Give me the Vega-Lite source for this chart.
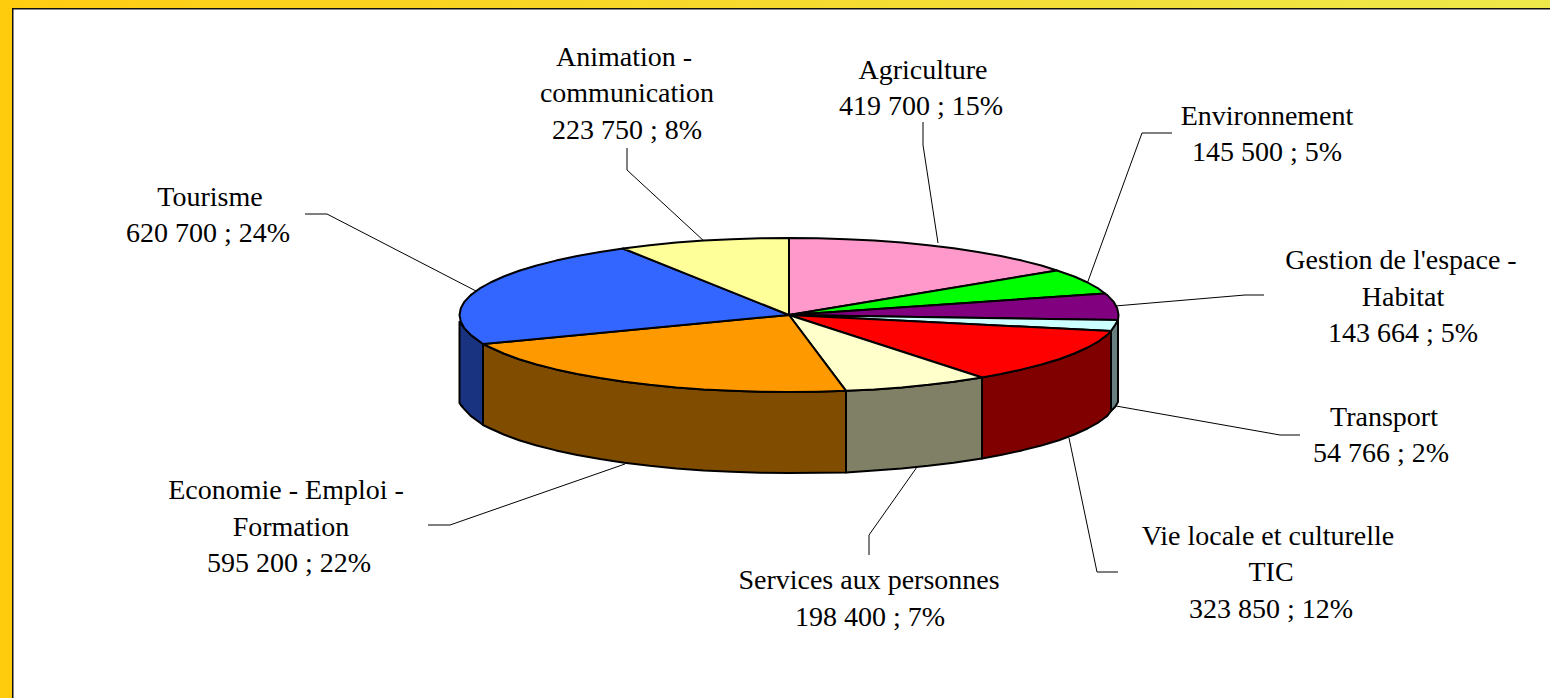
{"$schema":"https://vega.github.io/schema/vega-lite/v6.json","width":1550,"height":698,"autosize":"none","padding":0,"background":"white","config":{"view":{"stroke":null}},
"datasets":{
"frame":[{"part":"top","x":-789,"x2":761,"y":315,"y2":307},{"part":"left","x":-789,"x2":-777,"y":315,"y2":-383}],
"frameline":[{"x":-777,"x2":761,"y":307,"y2":305.5},{"x":-777,"x2":-775.5,"y":307,"y2":-383}],
"leaders":[
{"k":"Animation","o":1,"x":-162,"y":167},{"k":"Animation","o":2,"x":-162,"y":145},{"k":"Animation","o":3,"x":-84,"y":73},
{"k":"Agriculture","o":1,"x":134,"y":193},{"k":"Agriculture","o":2,"x":134,"y":170},{"k":"Agriculture","o":3,"x":149,"y":72},
{"k":"Environnement","o":1,"x":383,"y":182},{"k":"Environnement","o":2,"x":353,"y":182},{"k":"Environnement","o":3,"x":298,"y":31},
{"k":"Gestion","o":1,"x":475,"y":20},{"k":"Gestion","o":2,"x":456,"y":20},{"k":"Gestion","o":3,"x":326,"y":9},
{"k":"Transport","o":1,"x":327,"y":-91},{"k":"Transport","o":2,"x":491,"y":-120},{"k":"Transport","o":3,"x":511,"y":-120},
{"k":"Vie","o":1,"x":329,"y":-257},{"k":"Vie","o":2,"x":308,"y":-257},{"k":"Vie","o":3,"x":280,"y":-123},
{"k":"Services","o":1,"x":80,"y":-240},{"k":"Services","o":2,"x":80,"y":-220},{"k":"Services","o":3,"x":128,"y":-152},
{"k":"Economie","o":1,"x":-361,"y":-210},{"k":"Economie","o":2,"x":-339,"y":-210},{"k":"Economie","o":3,"x":-164,"y":-149},
{"k":"Tourisme","o":1,"x":-484,"y":101},{"k":"Tourisme","o":2,"x":-462,"y":101},{"k":"Tourisme","o":3,"x":-313,"y":24}],
"labels":[
{"t":"Animation -","x":-165,"y":257},{"t":"communication","x":-162,"y":221},{"t":"223 750 ; 8%","x":-162,"y":184},
{"t":"Agriculture","x":134,"y":244},{"t":"419 700 ; 15%","x":132,"y":208},
{"t":"Environnement","x":478,"y":198},{"t":"145 500 ; 5%","x":478,"y":162},
{"t":"Gestion de l'espace -","x":612,"y":54},{"t":"Habitat","x":614,"y":17},{"t":"143 664 ; 5%","x":614,"y":-19},
{"t":"Transport","x":595,"y":-103},{"t":"54 766 ; 2%","x":592,"y":-139},
{"t":"Vie locale et culturelle","x":479,"y":-222},{"t":"TIC","x":482,"y":-258},{"t":"323 850 ; 12%","x":482,"y":-295},
{"t":"Services aux personnes","x":80,"y":-266},{"t":"198 400 ; 7%","x":81,"y":-303},
{"t":"Economie - Emploi -","x":-503,"y":-176},{"t":"Formation","x":-498,"y":-213},{"t":"595 200 ; 22%","x":-500,"y":-249},
{"t":"Tourisme","x":-579,"y":117},{"t":"620 700 ; 24%","x":-581,"y":81}],
"pie":[
{"s":"Tourisme wall","o":1,"x":-329.5,"y":-6.7},{"s":"Tourisme wall","o":2,"x":-328.2,"y":-8},{"s":"Tourisme wall","o":3,"x":-324.5,"y":-13.4},{"s":"Tourisme wall","o":4,"x":-318.3,"y":-19.9},{"s":"Tourisme wall","o":5,"x":-309.6,"y":-26.3},{"s":"Tourisme wall","o":6,"x":-306,"y":-29},{"s":"Tourisme wall","o":7,"x":-306,"y":-110},{"s":"Tourisme wall","o":8,"x":-309.6,"y":-107.3},{"s":"Tourisme wall","o":9,"x":-318.3,"y":-100.9},{"s":"Tourisme wall","o":10,"x":-324.5,"y":-94.4},{"s":"Tourisme wall","o":11,"x":-328.2,"y":-90},{"s":"Tourisme wall","o":12,"x":-329.5,"y":-88},
{"s":"Economie wall","o":1,"x":57,"y":-75.8},{"s":"Economie wall","o":2,"x":28.7,"y":-76.7},{"s":"Economie wall","o":3,"x":0,"y":-77},{"s":"Economie wall","o":4,"x":-28.7,"y":-76.7},{"s":"Economie wall","o":5,"x":-57.2,"y":-75.8},{"s":"Economie wall","o":6,"x":-85.3,"y":-74.4},{"s":"Economie wall","o":7,"x":-112.7,"y":-72.4},{"s":"Economie wall","o":8,"x":-139.3,"y":-69.8},{"s":"Economie wall","o":9,"x":-164.8,"y":-66.7},{"s":"Economie wall","o":10,"x":-189,"y":-63.1},{"s":"Economie wall","o":11,"x":-211.8,"y":-59},{"s":"Economie wall","o":12,"x":-233,"y":-54.4},{"s":"Economie wall","o":13,"x":-252.4,"y":-49.5},{"s":"Economie wall","o":14,"x":-269.9,"y":-44.2},{"s":"Economie wall","o":15,"x":-285.3,"y":-38.5},{"s":"Economie wall","o":16,"x":-298.6,"y":-32.5},{"s":"Economie wall","o":17,"x":-306,"y":-29},{"s":"Economie wall","o":18,"x":-306,"y":-110},{"s":"Economie wall","o":19,"x":-298.6,"y":-113.5},{"s":"Economie wall","o":20,"x":-285.3,"y":-119.5},{"s":"Economie wall","o":21,"x":-269.9,"y":-125.2},{"s":"Economie wall","o":22,"x":-252.4,"y":-130.5},{"s":"Economie wall","o":23,"x":-233,"y":-135.4},{"s":"Economie wall","o":24,"x":-211.8,"y":-140},{"s":"Economie wall","o":25,"x":-189,"y":-144.1},{"s":"Economie wall","o":26,"x":-164.8,"y":-147.7},{"s":"Economie wall","o":27,"x":-139.3,"y":-150.8},{"s":"Economie wall","o":28,"x":-112.7,"y":-153.4},{"s":"Economie wall","o":29,"x":-85.3,"y":-155.4},{"s":"Economie wall","o":30,"x":-57.2,"y":-156.8},{"s":"Economie wall","o":31,"x":-28.7,"y":-157.7},{"s":"Economie wall","o":32,"x":0,"y":-158},{"s":"Economie wall","o":33,"x":28.7,"y":-157.7},{"s":"Economie wall","o":34,"x":57,"y":-157.5},
{"s":"Services wall","o":1,"x":193,"y":-62.5},{"s":"Services wall","o":2,"x":164.8,"y":-66.7},{"s":"Services wall","o":3,"x":139.3,"y":-69.8},{"s":"Services wall","o":4,"x":112.7,"y":-72.4},{"s":"Services wall","o":5,"x":85.3,"y":-74.4},{"s":"Services wall","o":6,"x":57,"y":-75.8},{"s":"Services wall","o":7,"x":57,"y":-157.5},{"s":"Services wall","o":8,"x":85.3,"y":-155.4},{"s":"Services wall","o":9,"x":112.7,"y":-153.4},{"s":"Services wall","o":10,"x":139.3,"y":-150.8},{"s":"Services wall","o":11,"x":164.8,"y":-147.7},{"s":"Services wall","o":12,"x":193,"y":-143.5},
{"s":"Vie wall","o":1,"x":322,"y":-16},{"s":"Vie wall","o":2,"x":318.3,"y":-19.9},{"s":"Vie wall","o":3,"x":309.6,"y":-26.3},{"s":"Vie wall","o":4,"x":298.6,"y":-32.5},{"s":"Vie wall","o":5,"x":285.3,"y":-38.5},{"s":"Vie wall","o":6,"x":269.9,"y":-44.2},{"s":"Vie wall","o":7,"x":252.4,"y":-49.5},{"s":"Vie wall","o":8,"x":233,"y":-54.4},{"s":"Vie wall","o":9,"x":211.8,"y":-59},{"s":"Vie wall","o":10,"x":193,"y":-62.5},{"s":"Vie wall","o":11,"x":193,"y":-143.5},{"s":"Vie wall","o":12,"x":211.8,"y":-140},{"s":"Vie wall","o":13,"x":233,"y":-135.4},{"s":"Vie wall","o":14,"x":252.4,"y":-130.5},{"s":"Vie wall","o":15,"x":269.9,"y":-125.2},{"s":"Vie wall","o":16,"x":285.3,"y":-119.5},{"s":"Vie wall","o":17,"x":298.6,"y":-113.5},{"s":"Vie wall","o":18,"x":309.6,"y":-107.3},{"s":"Vie wall","o":19,"x":318.3,"y":-100.9},{"s":"Vie wall","o":20,"x":322,"y":-96},
{"s":"Transport wall","o":1,"x":329,"y":-5},{"s":"Transport wall","o":2,"x":326,"y":-10},{"s":"Transport wall","o":3,"x":322,"y":-16},{"s":"Transport wall","o":4,"x":322,"y":-96},{"s":"Transport wall","o":5,"x":326,"y":-92},{"s":"Transport wall","o":6,"x":329,"y":-87},
{"s":"Agriculture","o":0,"x":0,"y":0},{"s":"Agriculture","o":1,"x":0,"y":77},{"s":"Agriculture","o":2,"x":28.7,"y":76.7},{"s":"Agriculture","o":3,"x":57.2,"y":75.8},{"s":"Agriculture","o":4,"x":85.3,"y":74.4},{"s":"Agriculture","o":5,"x":112.7,"y":72.4},{"s":"Agriculture","o":6,"x":139.3,"y":69.8},{"s":"Agriculture","o":7,"x":164.8,"y":66.7},{"s":"Agriculture","o":8,"x":189,"y":63.1},{"s":"Agriculture","o":9,"x":211.8,"y":59},{"s":"Agriculture","o":10,"x":233,"y":54.4},{"s":"Agriculture","o":11,"x":252.4,"y":49.5},{"s":"Agriculture","o":12,"x":268,"y":44.5},
{"s":"Environnement","o":0,"x":0,"y":0},{"s":"Environnement","o":1,"x":268,"y":44.5},{"s":"Environnement","o":2,"x":285.3,"y":38.5},{"s":"Environnement","o":3,"x":298.6,"y":32.5},{"s":"Environnement","o":4,"x":309.6,"y":26.3},{"s":"Environnement","o":5,"x":316,"y":21.5},
{"s":"Gestion","o":0,"x":0,"y":0},{"s":"Gestion","o":1,"x":316,"y":21.5},{"s":"Gestion","o":2,"x":318.3,"y":19.9},{"s":"Gestion","o":3,"x":324.5,"y":13.4},{"s":"Gestion","o":4,"x":328.2,"y":6.7},{"s":"Gestion","o":5,"x":329.5,"y":0},{"s":"Gestion","o":6,"x":329,"y":-5},
{"s":"Transport","o":0,"x":0,"y":0},{"s":"Transport","o":1,"x":329,"y":-5},{"s":"Transport","o":2,"x":326,"y":-10},{"s":"Transport","o":3,"x":322,"y":-16},
{"s":"Vie","o":0,"x":0,"y":0},{"s":"Vie","o":1,"x":322,"y":-16},{"s":"Vie","o":2,"x":318.3,"y":-19.9},{"s":"Vie","o":3,"x":309.6,"y":-26.3},{"s":"Vie","o":4,"x":298.6,"y":-32.5},{"s":"Vie","o":5,"x":285.3,"y":-38.5},{"s":"Vie","o":6,"x":269.9,"y":-44.2},{"s":"Vie","o":7,"x":252.4,"y":-49.5},{"s":"Vie","o":8,"x":233,"y":-54.4},{"s":"Vie","o":9,"x":211.8,"y":-59},{"s":"Vie","o":10,"x":193,"y":-62.5},
{"s":"Services","o":0,"x":0,"y":0},{"s":"Services","o":1,"x":193,"y":-62.5},{"s":"Services","o":2,"x":164.8,"y":-66.7},{"s":"Services","o":3,"x":139.3,"y":-69.8},{"s":"Services","o":4,"x":112.7,"y":-72.4},{"s":"Services","o":5,"x":85.3,"y":-74.4},{"s":"Services","o":6,"x":57,"y":-75.8},
{"s":"Economie","o":0,"x":0,"y":0},{"s":"Economie","o":1,"x":57,"y":-75.8},{"s":"Economie","o":2,"x":28.7,"y":-76.7},{"s":"Economie","o":3,"x":0,"y":-77},{"s":"Economie","o":4,"x":-28.7,"y":-76.7},{"s":"Economie","o":5,"x":-57.2,"y":-75.8},{"s":"Economie","o":6,"x":-85.3,"y":-74.4},{"s":"Economie","o":7,"x":-112.7,"y":-72.4},{"s":"Economie","o":8,"x":-139.3,"y":-69.8},{"s":"Economie","o":9,"x":-164.8,"y":-66.7},{"s":"Economie","o":10,"x":-189,"y":-63.1},{"s":"Economie","o":11,"x":-211.8,"y":-59},{"s":"Economie","o":12,"x":-233,"y":-54.4},{"s":"Economie","o":13,"x":-252.4,"y":-49.5},{"s":"Economie","o":14,"x":-269.9,"y":-44.2},{"s":"Economie","o":15,"x":-285.3,"y":-38.5},{"s":"Economie","o":16,"x":-298.6,"y":-32.5},{"s":"Economie","o":17,"x":-306,"y":-29},
{"s":"Tourisme","o":0,"x":0,"y":0},{"s":"Tourisme","o":1,"x":-306,"y":-29},{"s":"Tourisme","o":2,"x":-309.6,"y":-26.3},{"s":"Tourisme","o":3,"x":-318.3,"y":-19.9},{"s":"Tourisme","o":4,"x":-324.5,"y":-13.4},{"s":"Tourisme","o":5,"x":-328.2,"y":-6.7},{"s":"Tourisme","o":6,"x":-329.5,"y":0},{"s":"Tourisme","o":7,"x":-328.2,"y":6.7},{"s":"Tourisme","o":8,"x":-324.5,"y":13.4},{"s":"Tourisme","o":9,"x":-318.3,"y":19.9},{"s":"Tourisme","o":10,"x":-309.6,"y":26.3},{"s":"Tourisme","o":11,"x":-298.6,"y":32.5},{"s":"Tourisme","o":12,"x":-285.3,"y":38.5},{"s":"Tourisme","o":13,"x":-269.9,"y":44.2},{"s":"Tourisme","o":14,"x":-252.4,"y":49.5},{"s":"Tourisme","o":15,"x":-233,"y":54.4},{"s":"Tourisme","o":16,"x":-211.8,"y":59},{"s":"Tourisme","o":17,"x":-189,"y":63.1},{"s":"Tourisme","o":18,"x":-166,"y":66.5},
{"s":"Animation","o":0,"x":0,"y":0},{"s":"Animation","o":1,"x":-166,"y":66.5},{"s":"Animation","o":2,"x":-139.3,"y":69.8},{"s":"Animation","o":3,"x":-112.7,"y":72.4},{"s":"Animation","o":4,"x":-85.3,"y":74.4},{"s":"Animation","o":5,"x":-57.2,"y":75.8},{"s":"Animation","o":6,"x":-28.7,"y":76.7},{"s":"Animation","o":7,"x":0,"y":77}
]},
"layer":[
{"data":{"name":"frame"},"mark":{"type":"rect","fill":{"x1":0,"y1":0,"x2":1,"y2":0,"gradient":"linear","stops":[{"offset":0,"color":"#FFCC11"},{"offset":1,"color":"#EDE84A"}]}},"transform":[{"filter":"datum.part==='top'"}],"encoding":{"x":{"field":"x","type":"quantitative","scale":{"domain":[-789,761],"nice":false,"zero":false},"axis":null},"x2":{"field":"x2"},"y":{"field":"y","type":"quantitative","scale":{"domain":[-383,315],"nice":false,"zero":false},"axis":null},"y2":{"field":"y2"}}},
{"data":{"name":"frame"},"mark":{"type":"rect","fill":"#FFCC0D"},"transform":[{"filter":"datum.part==='left'"}],"encoding":{"x":{"field":"x","type":"quantitative"},"x2":{"field":"x2"},"y":{"field":"y","type":"quantitative"},"y2":{"field":"y2"}}},
{"data":{"name":"frameline"},"mark":{"type":"rect","fill":"#111111"},"encoding":{"x":{"field":"x","type":"quantitative"},"x2":{"field":"x2"},"y":{"field":"y","type":"quantitative"},"y2":{"field":"y2"}}},
{"data":{"name":"leaders"},"mark":{"type":"line","stroke":"#000000","strokeWidth":1},"encoding":{"x":{"field":"x","type":"quantitative"},"y":{"field":"y","type":"quantitative"},"detail":{"field":"k"},"order":{"field":"o"}}},
{"data":{"name":"pie"},"mark":{"type":"line","interpolate":"linear-closed","stroke":"#000000","strokeWidth":2,"strokeJoin":"round"},"encoding":{"x":{"field":"x","type":"quantitative"},"y":{"field":"y","type":"quantitative"},"detail":{"field":"s"},"order":{"field":"o"},"fill":{"field":"s","type":"nominal","legend":null,"scale":{"domain":["Agriculture","Environnement","Gestion","Transport","Vie","Services","Economie","Tourisme","Animation","Transport wall","Vie wall","Services wall","Economie wall","Tourisme wall"],"range":["#FF99CC","#00FF00","#800080","#CCFFFF","#FF0000","#FFFFCC","#FF9900","#3366FF","#FFFF99","#668080","#800000","#808066","#804D00","#1A3380"]}}}},
{"data":{"name":"labels"},"mark":{"type":"text","font":"Liberation Serif","fontSize":28,"align":"center","baseline":"middle","fill":"#000000"},"encoding":{"x":{"field":"x","type":"quantitative"},"y":{"field":"y","type":"quantitative"},"text":{"field":"t"}}}
]}
